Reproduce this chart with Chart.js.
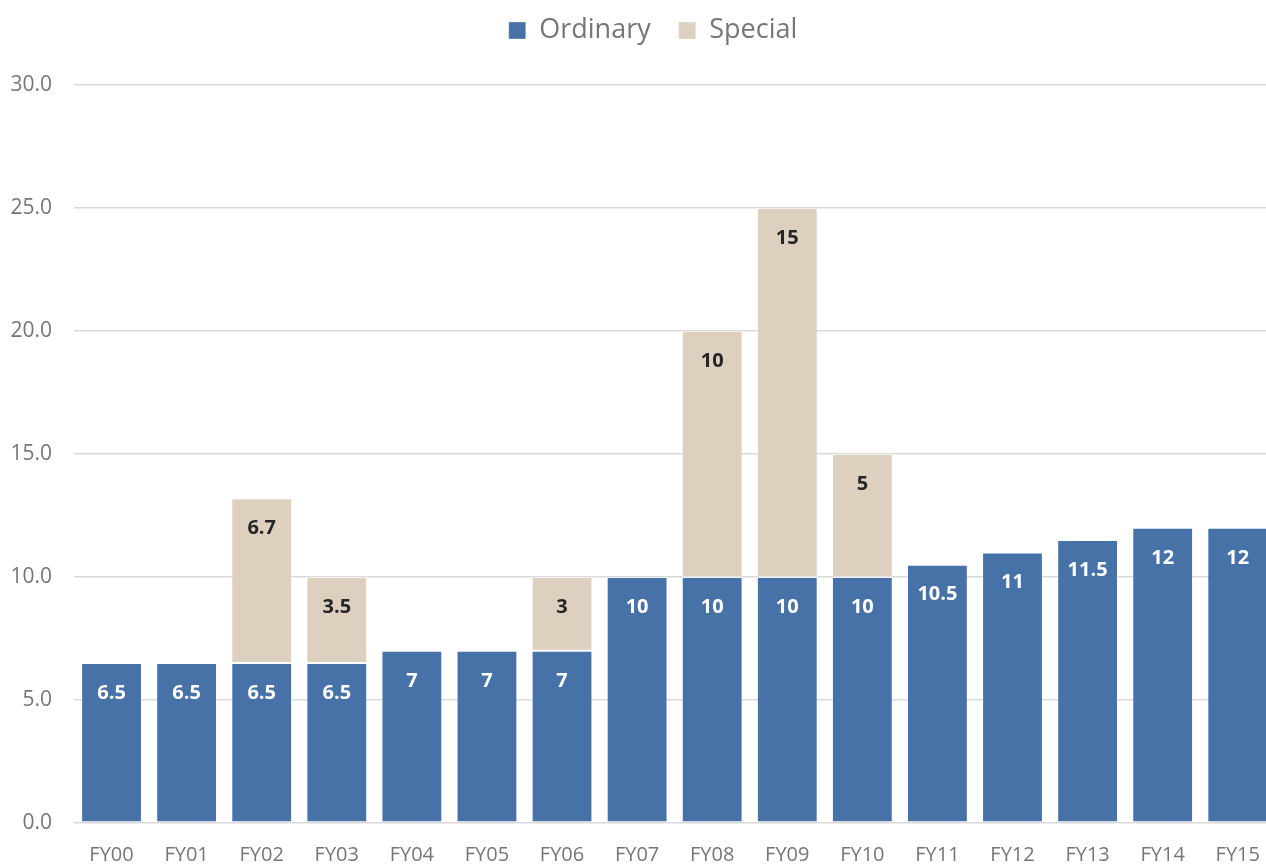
<!DOCTYPE html>
<html>
<head>
<meta charset="utf-8">
<script src="https://cdn.jsdelivr.net/npm/chart.js@4"></script>
<style>
html,body{margin:0;padding:0;background:#fff;overflow:hidden;}
#wrap{width:1280px;height:864px;}
</style>
</head>
<body>
<div id="wrap"><canvas id="c" width="1280" height="864"></canvas></div>
<script>
const categories = ['FY00','FY01','FY02','FY03','FY04','FY05','FY06','FY07','FY08','FY09','FY10','FY11','FY12','FY13','FY14','FY15'];
const ordinary = [6.5,6.5,6.5,6.5,7,7,7,10,10,10,10,10.5,11,11.5,12,12];
const special = [null,null,6.7,3.5,null,null,3,null,10,15,5,null,null,null,null,null];
const yTicks = [0,5,10,15,20,25,30];

const gray = '#767676';
const fontFam = "'Open Sans', sans-serif";

const legendSpace = {
  id: 'legendSpace',
  beforeInit(chart) {
    const orig = chart.legend.fit;
    chart.legend.fit = function() {
      orig.bind(chart.legend)();
      this.height = 85;
    };
  },
  afterLayout(chart) {
    const lg = chart.legend;
    lg.top -= 11; lg.bottom -= 11;
    lg.left += 14; lg.right += 14;
  }
};

const barLabels = {
  id: 'barLabels',
  afterDatasetsDraw(chart) {
    const ctx = chart.ctx;
    ctx.save();
    ctx.font = "bold 20px " + fontFam;
    ctx.textAlign = 'center';
    ctx.textBaseline = 'middle';
    chart.data.datasets.forEach((ds, di) => {
      const meta = chart.getDatasetMeta(di);
      meta.data.forEach((el, i) => {
        const v = ds.data[i];
        if (v === null || v === undefined) return;
        ctx.fillStyle = di === 0 ? '#ffffff' : '#262626';
        ctx.fillText(String(v), el.x, el.y + 30);
      });
    });
    ctx.restore();
  }
};

new Chart(document.getElementById('c'), {
  type: 'bar',
  data: {
    labels: categories,
    datasets: [
      { label: 'Ordinary', data: ordinary, backgroundColor: '#4672A7', borderColor: 'rgba(255,255,255,0.3)', borderWidth: 1, borderSkipped: false, categoryPercentage: 1, barPercentage: 0.81 },
      { label: 'Special', data: special, backgroundColor: '#DDD0BF', borderColor: 'rgba(255,255,255,0.3)', borderWidth: 1, borderSkipped: false, categoryPercentage: 1, barPercentage: 0.81 }
    ]
  },
  options: {
    responsive: false,
    animation: false,
    devicePixelRatio: 1,
    layout: { padding: { left: 0, right: 2, top: 0, bottom: 0 } },
    plugins: {
      legend: {
        position: 'top',
        labels: {
          color: gray,
          font: { family: fontFam, size: 27 },
          boxWidth: 17,
          boxHeight: 17,
          padding: 28
        }
      },
      tooltip: { enabled: false }
    },
    scales: {
      x: {
        stacked: true,
        grid: { display: false, drawTicks: false },
        border: { display: false },
        ticks: { color: gray, font: { family: fontFam, size: 20 }, padding: 20, maxRotation: 0, autoSkip: false },
        afterFit(scale) { scale.height = 41; }
      },
      y: {
        stacked: true,
        min: 0,
        max: 30,
        afterBuildTicks(scale) { scale.ticks = yTicks.map(v => ({ value: v })); },
        grid: { color: '#d9d9d9', lineWidth: 1.5, drawTicks: false },
        border: { display: false },
        ticks: { color: gray, font: { family: fontFam, size: 21 }, padding: 22, callback: v => Number(v).toFixed(1) },
        afterFit(scale) { scale.width = 74; }
      }
    }
  },
  plugins: [legendSpace, barLabels]
});
</script>
</body>
</html>
